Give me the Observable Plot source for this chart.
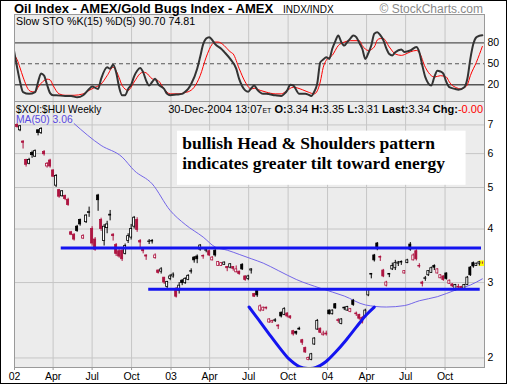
<!DOCTYPE html>
<html><head><meta charset="utf-8">
<script src="https://cdn.jsdelivr.net/npm/d3@7"></script>
<script src="https://cdn.jsdelivr.net/npm/@observablehq/plot@0.6"></script>
<style>
body{margin:0;background:#fff;}
#chart{position:relative;width:507px;height:384px;overflow:hidden;background:#fff;font-family:"Liberation Sans",Arial,sans-serif;}
#chart svg{position:absolute;left:0;}
#border{position:absolute;left:0;top:0;width:507px;height:384px;box-sizing:border-box;border:1px solid #000;}
</style></head><body><div id="chart"><div id="border"></div></div>
<script>
// ---------- data (weekly, first week = Monday 2002-01-07) ----------
const firstWeek = "2002-01-07";
const open = [7.00,6.80,6.40,5.80,5.68,6.02,5.90,6.80,6.70,6.05,
5.60,5.78,5.48,5.05,4.93,4.77,4.78,4.68,3.93,3.88,
4.05,4.20,3.80,4.15,4.36,4.00,3.78,4.79,4.20,3.75,
4.02,4.30,3.88,3.67,3.55,3.56,3.50,3.75,3.82,4.05,
4.20,3.75,3.60,3.47,3.73,3.74,3.42,3.20,3.18,3.08,
2.93,3.06,3.10,2.90,2.87,3.03,2.99,3.04,3.18,3.43,
3.45,3.58,3.46,3.56,3.55,3.38,3.56,3.28,3.28,3.30,
3.26,3.25,3.26,3.17,3.18,3.30,3.10,3.06,3.20,2.82,
2.88,2.58,2.58,2.62,2.42,2.42,2.44,2.38,2.55,2.52,
2.54,2.50,2.31,2.30,2.33,2.20,2.11,1.98,1.98,2.15,
2.33,2.34,2.26,2.28,2.58,2.53,2.67,2.45,2.40,2.61,
2.58,2.56,2.72,2.54,2.52,2.48,2.50,2.80,3.13,3.47,
3.70,3.44,3.20,2.95,3.13,3.22,3.24,3.32,3.34,3.15,
3.33,3.68,3.38,3.55,3.28,3.00,3.06,3.12,3.16,3.28,
3.15,3.07,3.10,3.15,2.98,2.97,2.88,2.93,2.93,2.90,
2.96,3.25,3.33,3.28,3.32,3.34];
const high = [7.05,6.98,6.43,5.82,5.85,6.08,6.12,6.82,6.90,6.10,
5.72,5.82,5.50,5.36,4.95,4.92,4.80,4.72,3.95,3.90,
4.08,4.22,3.88,4.32,4.50,4.05,3.82,4.82,4.24,4.10,
4.17,4.42,3.90,3.70,3.58,3.58,3.69,3.90,4.10,4.28,
4.25,3.78,3.62,3.48,3.78,3.78,3.50,3.21,3.25,3.08,
3.02,3.13,3.16,2.92,3.00,3.05,3.08,3.13,3.23,3.45,
3.48,3.68,3.48,3.62,3.57,3.45,3.58,3.36,3.34,3.35,
3.27,3.32,3.27,3.28,3.19,3.32,3.11,3.12,3.23,2.83,
2.89,2.66,2.63,2.63,2.47,2.45,2.47,2.39,2.56,2.62,
2.55,2.51,2.32,2.31,2.36,2.21,2.12,2.01,2.05,2.23,
2.46,2.35,2.31,2.31,2.59,2.59,2.68,2.47,2.47,2.63,
2.64,2.61,2.74,2.56,2.53,2.50,2.60,2.89,3.15,3.49,
3.72,3.46,3.22,3.02,3.15,3.33,3.38,3.36,3.37,3.20,
3.40,3.72,3.50,3.58,3.32,3.02,3.10,3.20,3.26,3.30,
3.23,3.13,3.11,3.16,3.04,2.98,2.97,2.97,2.94,2.97,
3.10,3.27,3.35,3.33,3.36,3.35];
const low = [6.88,6.75,6.15,5.58,5.65,5.85,5.88,6.60,6.65,5.92,
5.55,5.55,5.28,5.00,4.72,4.75,4.66,4.52,3.86,3.75,
3.93,4.06,3.78,4.12,4.26,3.65,3.55,4.40,3.95,3.65,
3.90,4.18,3.75,3.45,3.42,3.36,3.48,3.70,3.77,4.00,
3.93,3.62,3.50,3.38,3.68,3.69,3.40,3.14,3.14,2.97,
2.90,3.03,3.07,2.76,2.82,2.95,2.97,3.03,3.14,3.33,
3.32,3.55,3.40,3.52,3.45,3.37,3.44,3.27,3.27,3.29,
3.18,3.23,3.19,3.16,3.12,3.20,3.02,3.03,3.14,2.77,
2.77,2.56,2.57,2.59,2.41,2.41,2.42,2.33,2.48,2.51,
2.48,2.46,2.25,2.26,2.32,2.14,2.05,1.97,1.97,2.14,
2.32,2.28,2.25,2.25,2.52,2.52,2.60,2.41,2.39,2.58,
2.57,2.55,2.64,2.50,2.45,2.40,2.49,2.78,3.06,3.35,
3.56,3.36,3.08,2.93,3.08,3.20,3.20,3.27,3.29,3.14,
3.32,3.55,3.37,3.37,3.24,2.93,3.02,3.10,3.15,3.20,
3.14,3.06,3.02,3.04,2.97,2.92,2.87,2.90,2.89,2.89,
2.95,3.10,3.24,3.27,3.28,3.31];
const close = [6.92,6.95,6.36,5.65,5.80,5.95,6.08,6.70,6.85,5.98,
5.68,5.60,5.30,5.32,4.76,4.90,4.70,4.55,3.88,3.78,
3.96,4.10,3.85,4.30,4.38,3.70,3.58,4.67,4.00,4.05,
4.10,4.32,3.85,3.50,3.45,3.40,3.65,3.85,4.00,4.25,
3.98,3.72,3.55,3.45,3.74,3.75,3.47,3.16,3.22,3.00,
3.01,3.10,3.13,2.78,2.95,2.99,3.06,3.11,3.19,3.38,
3.40,3.66,3.45,3.57,3.47,3.43,3.47,3.35,3.33,3.34,
3.24,3.31,3.23,3.22,3.14,3.22,3.04,3.10,3.22,2.78,
2.80,2.64,2.62,2.61,2.46,2.44,2.45,2.37,2.50,2.60,
2.50,2.48,2.27,2.28,2.34,2.17,2.06,2.00,2.04,2.22,
2.44,2.29,2.28,2.27,2.53,2.58,2.61,2.44,2.46,2.62,
2.63,2.60,2.66,2.53,2.47,2.42,2.58,2.88,3.14,3.38,
3.62,3.43,3.10,3.00,3.14,3.28,3.33,3.34,3.35,3.19,
3.38,3.58,3.47,3.40,3.27,2.98,3.07,3.19,3.24,3.25,
3.22,3.12,3.04,3.06,3.03,2.94,2.96,2.92,2.90,2.96,
3.08,3.12,3.27,3.32,3.345,3.34];

// MA(50): week index, value
const maWeek  = [19,28,35,39,45,51,56,62,66,70,74,78,82,87,93,101,109,116,123,129,134,140,146,151,155];
const maValue = [7.05,6.27,5.89,5.48,5.10,4.42,4.10,3.83,3.63,3.57,3.49,3.41,3.33,3.20,3.05,2.91,2.79,2.66,2.63,2.65,2.72,2.78,2.88,2.96,3.06];

// Slow stochastics %K(15) and %D(5)
const kWeek  = [-1,0,1,2,4,6,7,8,9,10,11,12,13,16,18,20,22,24,25,27,28,30,31,32,33,34,35,36,37,38,39,40,41,42,43,44,45,46,47,49,50,51,53,55,56,57,58,60,61,62,63,64,65,66,68,69,71,73,74,75,76,77,78,79,80,81,82,83,86,88,89,90,91,92,94,96,97,98,99,100,101,102,103,104,105,106,107,108,109,110,111,112,113,114,115,116,117,118,119,120,121,122,123,124,125,126,128,129,131,133,134,135,136,138,139,140,141,142,143,144,146,147,149,150,151,152,153,154,155];
const kValue = [68,45,24,9.5,7,9.5,24,36,33,20,8,5,5,4,4,2,5,14,17.5,14,28.5,45,43,48.5,38,16.5,5,5,14,20,32,40,44,38,26,19,24,28.5,21,14,7,5,6,7,10,14,21,43,60,78,86,88,84,78,71.5,67,57,43,28,18,12,10,15,19,13,9,7,7,5,4,7,12,20,19,7,7,6,4,10,22,52,56,59.5,57,71.5,82,90.5,81,76,81,86,90.5,88,80,71.5,57,65,76,93,95,91,84,72,64,62,66.5,70.5,67,69,74,66.5,47.5,31,19,31,40,39,36,24,16.5,14,13,16.5,28.5,57,78.5,88,90,90.7];
const dWeek  = [-1,0,1,2,4,5,6,7,9,10,11,12,14,16,19,22,24,26,28,30,32,33,34,35,37,39,41,42,43,45,47,49,51,54,56,57,59,61,63,65,66,67,69,71,72,74,76,78,79,81,83,86,88,90,92,95,97,99,101,102,103,105,107,109,111,114,115,117,119,120,121,122,124,126,128,130,131,133,134,136,138,139,141,143,144,145,146,148,149,150,151,153,155];
const dValue = [63,56,44,31,12,10,9.5,16.5,26,28,27,19,7,5,5,7,12,16.5,21,33,45,40,30,19,12,24,36,38,37,28.5,26,14,7,7,9,10,16.5,33,59.5,78,81,81,76,67,64,43,24,14,15,12,9.5,7,7,12,16.5,13,9.5,7,24,45,55,62,76,81,83,83,76,69,74,84,86,86,74,64,62,65,67,69,66,45,33,31,33,31,24,19,16.5,14,16,20,33,52,74.81];

// Annotations drawn on the chart
const necklineValue = [3.61, 2.895];
const necklineStart = ["2002-04-20", "2002-11-10"];
const necklineEnd   = ["2004-12-25", "2004-12-22"];
const headDate  = ["2003-07-02","2003-07-25","2003-08-17","2003-09-10","2003-10-03","2003-10-27","2003-11-16","2003-12-05","2003-12-28","2004-01-21","2004-02-13","2004-03-08","2004-03-31","2004-04-19"];
const headValue = [2.63,2.45,2.28,2.12,1.99,1.91,1.89,1.90,1.96,2.07,2.20,2.36,2.52,2.63];
const noteLines = ["bullish Head & Shoulders pattern", "indicates greater tilt toward energy"];
const noteBox = {x1: "2003-01-16", x2: "2004-11-19", y1: 5.06, y2: 6.77, textAt: "2003-01-27", textY: 6.64};

const priceTicks = [2,3,4,5,6,7];
const stochLevels = [80,50,20];

// ---------- build ----------
const DAY = 864e5;
const w0 = new Date(firstWeek);
const weekDate = i => new Date(+w0 + i * 7 * DAY);
const xDomain = [new Date("2002-01-01"), new Date("2005-01-01")];
const tickDates = d3.utcMonth.every(3).range(xDomain[0], xDomain[1]);
const fmtTick = d => d.getUTCMonth() === 0 ? d3.utcFormat("%y")(d) : d3.utcFormat("%b")(d);

const RED = "#ad1440", BLUE = "#1414f0", GRID = "#c6c6c6", PANEL = "#ececec";
const font = {fontFamily: "Liberation Sans, Arial, sans-serif", fontSize: "10.5px", overflow: "visible"};

const candles = close.map((c, i) => {
  const prev = i ? close[i - 1] : open[i];
  return {date: weekDate(i), o: open[i], h: high[i], l: low[i], c,
          color: c < prev ? RED : "#000", hollow: c > open[i]};
});
const kData = kWeek.map((w, i) => ({date: weekDate(w), v: kValue[i]}));
const dData = dWeek.map((w, i) => ({date: weekDate(w), v: dValue[i]}));
const maData = maWeek.map((w, i) => ({date: weekDate(w), v: maValue[i]}));
const necks = necklineValue.map((v, i) => ({v, a: new Date(necklineStart[i]), b: new Date(necklineEnd[i])}));
const head = headDate.map((d, i) => ({date: new Date(d), v: headValue[i]}));
const last = candles[candles.length - 1];

const chart = document.getElementById("chart");

// upper panel: stochastics
const sto = Plot.plot({
  width: 507, height: 87, marginLeft: 14, marginRight: 23, marginTop: 0, marginBottom: 0,
  style: font,
  x: {type: "utc", domain: xDomain},
  y: {domain: [-3.9, 120.4]},
  marks: [
    Plot.frame({fill: PANEL, stroke: null}),
    Plot.ruleX(tickDates, {stroke: GRID}),
    Plot.ruleY([80, 20], {stroke: "#555", strokeWidth: 1.3}),
    Plot.ruleY([50], {stroke: "#555", strokeWidth: 1.2, strokeDasharray: "4,3"}),
    Plot.line(dData, {x: "date", y: "v", stroke: "#ff0000", strokeWidth: 1, curve: "monotone-x", clip: true}),
    Plot.line(kData, {x: "date", y: "v", stroke: "#333", strokeWidth: 2, curve: "monotone-x", clip: true}),
    Plot.axisY({anchor: "right", ticks: stochLevels, tickSize: 0, tickPadding: 3, label: null}),
    Plot.axisX({ticks: [], label: null, tickSize: 0}),
    Plot.frame({stroke: "#9a9a9a"})
  ]
});
sto.style.top = "14px";
chart.appendChild(sto);

// lower panel: price
const px = Plot.plot({
  width: 507, height: 283, marginLeft: 14, marginRight: 23, marginTop: 0, marginBottom: 17,
  style: font,
  x: {type: "utc", domain: xDomain},
  y: {type: "log", domain: [1.90, 7.94]},
  marks: [
    Plot.frame({fill: PANEL, stroke: null}),
    Plot.ruleX(tickDates, {stroke: GRID}),
    Plot.ruleY(priceTicks, {stroke: GRID}),
    Plot.line(maData, {x: "date", y: "v", stroke: "#7466e8", strokeWidth: 1, curve: "monotone-x"}),
    Plot.rect([last], {x1: d => +d.date - 7 * DAY, x2: d => +d.date + 6 * DAY, y1: 3.27, y2: 3.37, fill: "#ffff00"}),
    Plot.ruleX(candles, {x: "date", y1: "l", y2: "h", stroke: "color", strokeWidth: 1}),
    Plot.rect(candles, {x1: d => +d.date - 2.4 * DAY, x2: d => +d.date + 2.4 * DAY, y1: "o", y2: "c",
      fill: d => d.hollow ? "#fff" : d.color, stroke: "color", strokeWidth: 0.8}),
    Plot.ruleY(necks, {x1: "a", x2: "b", y: "v", stroke: BLUE, strokeWidth: 3}),
    Plot.line(head, {x: "date", y: "v", stroke: BLUE, strokeWidth: 3, curve: "catmull-rom", clip: true}),
    Plot.rect([noteBox], {x1: d => new Date(d.x1), x2: d => new Date(d.x2), y1: "y1", y2: "y2", fill: "#fff"}),
    Plot.text([noteBox], {x: d => new Date(d.textAt), y: "textY", text: () => noteLines.join("\n"),
      textAnchor: "start", lineAnchor: "top", lineHeight: 1.16, fontSize: 17.5, fontWeight: "bold",
      fontFamily: "Liberation Serif, Times New Roman, serif", fill: "#000"}),
    Plot.axisY({anchor: "right", ticks: priceTicks, tickFormat: d => d, tickSize: 0, tickPadding: 3, label: null}),
    Plot.axisX({ticks: tickDates, tickFormat: fmtTick, tickSize: 3, tickPadding: 2, label: null, stroke: "#999"}),
    Plot.frame({stroke: "#9a9a9a"})
  ]
});
px.style.top = "101px";
chart.appendChild(px);

// header texts
const ov = d3.create("svg").attr("width", 507).attr("height", 384)
  .style("position", "absolute").style("left", 0).style("top", 0)
  .style("font-family", "Liberation Sans, Arial, sans-serif");
ov.append("text").attr("x", 14).attr("y", 13).attr("font-size", 13).attr("font-weight", "bold")
  .text("Oil Index - AMEX/Gold Bugs Index - AMEX");
ov.append("text").attr("x", 283).attr("y", 13).attr("font-size", 10).text("INDX/INDX");
ov.append("text").attr("x", 483).attr("y", 13).attr("font-size", 12).attr("text-anchor", "end")
  .attr("fill", "#888").text("© StockCharts.com");
ov.append("text").attr("x", 16).attr("y", 25).attr("font-size", 10.7).text("Slow STO %K(15) %D(5) 90.70 74.81");
ov.append("text").attr("x", 16).attr("y", 112.5).attr("font-size", 10.2).text("$XOI:$HUI Weekly");
ov.append("text").attr("x", 16).attr("y", 122.5).attr("font-size", 10.3).attr("fill", "#5848e0").text("MA(50) 3.06");
const hdr = ov.append("text").attr("x", 483).attr("y", 112.5).attr("font-size", 11).attr("text-anchor", "end");
[["30-Dec-2004 13:07", null], ["ET", "small"], [" O:", "b"], ["3.34"], [" H:", "b"], ["3.35"], [" L:", "b"], ["3.31"],
 [" Last:", "b"], ["3.34"], [" Chg:", "b"], ["-0.00", "red"]].forEach(([t, s]) => {
  const sp = hdr.append("tspan").text(t);
  if (s === "small") sp.attr("font-size", 7);
  if (s === "b") sp.attr("font-weight", "bold");
  if (s === "red") sp.attr("fill", "#ff0000");
});
chart.appendChild(ov.node());
chart.appendChild(document.getElementById("border"));
</script></body></html>
